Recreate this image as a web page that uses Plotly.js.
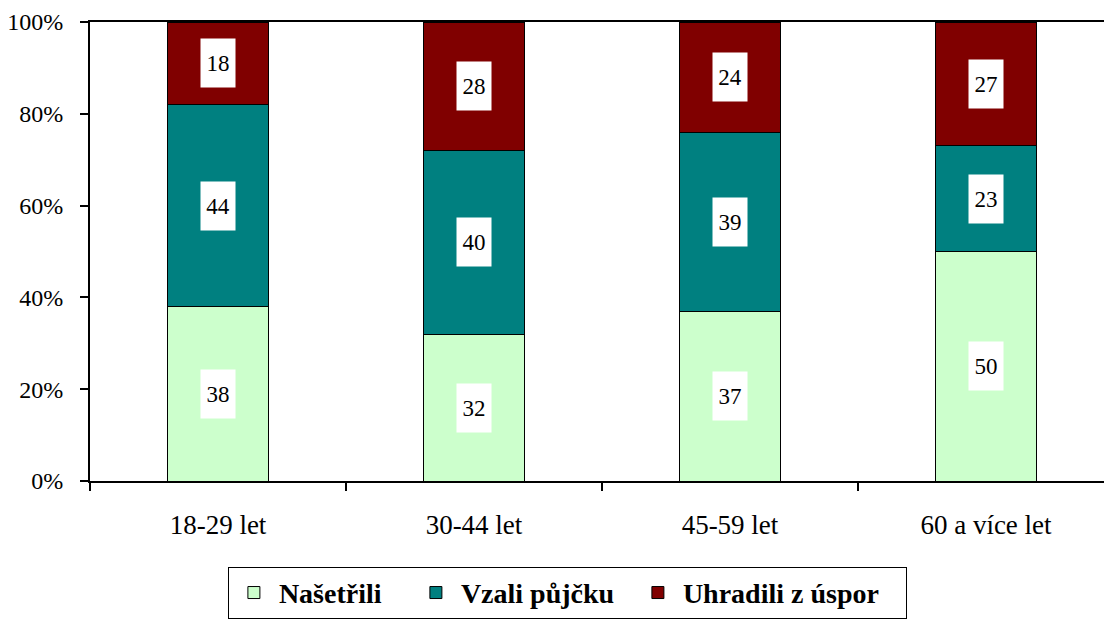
<!DOCTYPE html>
<html>
<head>
<meta charset="utf-8">
<script src="https://cdn.plot.ly/plotly-3.0.1.min.js"></script>
<style>html,body{margin:0;padding:0;background:#fff;}#chart{width:1104px;height:619px;}</style>
</head>
<body>
<div id="chart"></div>
<script>
const categories = ["18-29 let", "30-44 let", "45-59 let", "60 a více let"];
const seriesNames = ["Našetřili", "Vzali půjčku", "Uhradili z úspor"];
const nasetrili = [38, 32, 37, 50];
const vzaliPujcku = [44, 40, 39, 23];
const uhradili = [18, 28, 24, 27];
const colors = ["#CCFFCC", "#008080", "#800000"];
const yTickVals = [0, 20, 40, 60, 80, 100];
const yTickText = ["0%", "20%", "40%", "60%", "80%", "100%"];

const series = [nasetrili, vzaliPujcku, uhradili];
const SERIF = "Liberation Serif";
const legendWidths = [127, 167, 218];

const traces = series.map((vals, i) => ({
  type: "bar",
  name: seriesNames[i],
  x: categories,
  y: vals,
  width: 0.395,
  legendwidth: legendWidths[i],
  marker: {color: colors[i], line: {color: "#000", width: 1}},
  hoverinfo: "skip"
}));

const annotations = [];
categories.forEach((c, ci) => {
  let base = 0;
  series.forEach((vals) => {
    const v = vals[ci];
    annotations.push({
      x: c, y: base + v / 2, xref: "x", yref: "y",
      text: String(v), showarrow: false,
      bgcolor: "#fff", width: 32, height: 46,
      font: {family: SERIF, size: 23, color: "#000"}
    });
    base += v;
  });
});

const layout = {
  width: 1104, height: 619,
  margin: {l: 90, r: 0, t: 22, b: 138},
  paper_bgcolor: "#fff", plot_bgcolor: "#fff",
  barmode: "stack",
  showlegend: true,
  font: {family: SERIF, size: 24, color: "#000"},
  xaxis: {
    type: "category",
    range: [-0.5, 3.461],
    showline: true, linecolor: "#000", linewidth: 2, mirror: true,
    ticks: "outside", tickson: "boundaries", ticklen: 8, tickwidth: 2, tickcolor: "#000",
    ticklabelstandoff: 19,
    showgrid: false, zeroline: false,
    tickfont: {family: SERIF, size: 27, color: "#000"},
    fixedrange: true
  },
  yaxis: {
    range: [0, 100],
    tickvals: yTickVals, ticktext: yTickText,
    showline: true, linecolor: "#000", linewidth: 2,
    ticks: "outside", ticklen: 8, tickwidth: 2, tickcolor: "#000",
    ticklabelstandoff: 12,
    showgrid: false, zeroline: false,
    tickfont: {family: SERIF, size: 24, color: "#000"},
    fixedrange: true
  },
  legend: {
    orientation: "h",
    x: 0.136, xanchor: "left",
    y: -0.187, yanchor: "top",
    bordercolor: "#000", borderwidth: 1,
    bgcolor: "#fff",
    itemwidth: 40,
    font: {family: SERIF, size: 28, color: "#000", weight: "bold"},
    traceorder: "normal"
  },
  annotations: annotations
};

Plotly.newPlot("chart", traces, layout, {displayModeBar: false});
</script>
</body>
</html>
